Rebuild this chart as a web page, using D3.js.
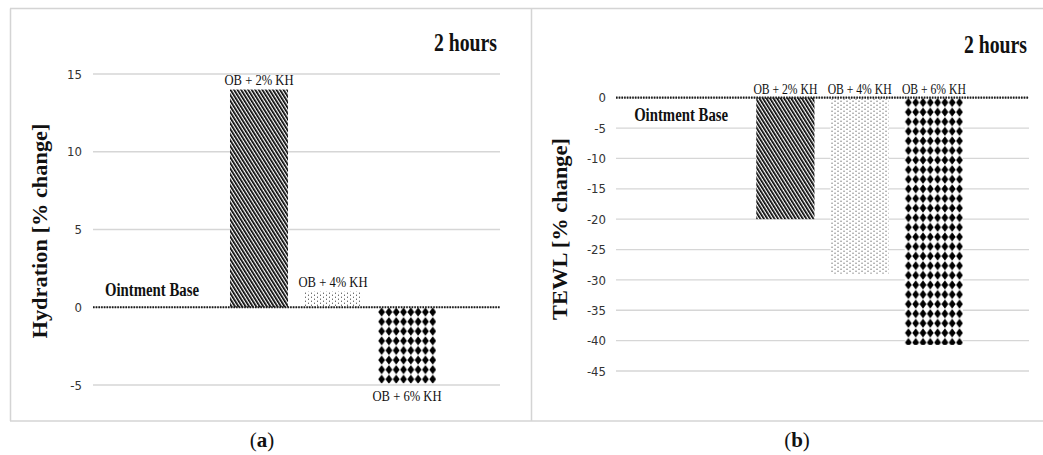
<!DOCTYPE html>
<html>
<head>
<meta charset="utf-8">
<script src="https://cdn.jsdelivr.net/npm/d3@7"></script>
<style>
  html, body { margin: 0; padding: 0; background: #fff; }
  svg { display: block; }
  .tick text { font-family: "Liberation Sans Narrow", "DejaVu Sans Condensed", "Liberation Sans", sans-serif; fill: #333; }
  .serif { font-family: "Liberation Serif", "Times New Roman", serif; }
</style>
</head>
<body>
<svg id="chart" width="1043" height="455"></svg>
<script>
// Treatment groups, in the order they appear along the x axis
const categories = ["Ointment Base", "OB + 2% KH", "OB + 4% KH", "OB + 6% KH"];
// Percent change versus the ointment base after 2 hours
const hydration = [0, 14, 1, -4.9];
const tewl = [0, -20, -29, -40.7];
// Axis ticks
const hydrationTicks = [-5, 0, 5, 10, 15];
const tewlTicks = [0, -5, -10, -15, -20, -25, -30, -35, -40, -45];
// Fill style for each group's bar
const fills = ["none", "stripes", "dots", "diamonds"];

const svg = d3.select("#chart");
const defs = svg.append("defs");

// Panel frame
const frame = svg.append("g").attr("stroke", "#d4d4d4").attr("stroke-width", 1.5).attr("fill", "none");
frame.append("line").attr("x1", 10).attr("x2", 1043).attr("y1", 8.5).attr("y2", 8.5);
frame.append("line").attr("x1", 10).attr("x2", 1043).attr("y1", 421).attr("y2", 421);
frame.append("line").attr("x1", 10.5).attr("x2", 10.5).attr("y1", 8.5).attr("y2", 421);
frame.append("line").attr("x1", 531.5).attr("x2", 531.5).attr("y1", 8.5).attr("y2", 421);

let patternCount = 0;
function makePattern(kind, x0, y0) {
  const id = "pat" + (patternCount++);
  if (kind === "stripes") {
    const p = defs.append("pattern").attr("id", id).attr("patternUnits", "userSpaceOnUse")
      .attr("width", 3).attr("height", 10).attr("patternTransform", "rotate(-32)");
    p.append("rect").attr("width", 3).attr("height", 10).attr("fill", "#fff");
    p.append("rect").attr("width", 1.7).attr("height", 10).attr("fill", "#000");
  } else if (kind === "dots") {
    const p = defs.append("pattern").attr("id", id).attr("patternUnits", "userSpaceOnUse")
      .attr("x", x0 + 1).attr("y", y0 + 1).attr("width", 6).attr("height", 4);
    p.append("rect").attr("width", 6).attr("height", 4).attr("fill", "#fff");
    p.append("rect").attr("width", 1).attr("height", 1).attr("fill", "#333");
    p.append("rect").attr("x", 3).attr("y", 2).attr("width", 1).attr("height", 1).attr("fill", "#333");
  } else if (kind === "diamonds") {
    const w = 7.3, h = 9.6;
    const p = defs.append("pattern").attr("id", id).attr("patternUnits", "userSpaceOnUse")
      .attr("x", x0).attr("y", y0).attr("width", w).attr("height", h);
    p.append("rect").attr("width", w).attr("height", h).attr("fill", "#fff");
    const cx = w / 2, cy = h / 2, rx = 3.4, ry = 4.5;
    p.append("path").attr("fill", "#000")
      .attr("d", `M${cx},${cy - ry} L${cx + rx},${cy} L${cx},${cy + ry} L${cx - rx},${cy} Z`);
  }
  return "url(#" + id + ")";
}

function panel(cfg) {
  const g = svg.append("g");
  const y = d3.scaleLinear().domain(cfg.domain).range(cfg.yRange);
  const x = d3.scaleBand().domain(categories).range(cfg.xRange)
    .paddingInner(0.216).paddingOuter(0.108);

  // Gridlines
  g.append("g").selectAll("line").data(cfg.ticks).join("line")
    .attr("x1", cfg.plotX[0]).attr("x2", cfg.plotX[1])
    .attr("y1", d => y(d)).attr("y2", d => y(d))
    .attr("stroke", "#d6d6d6").attr("stroke-width", 1.3);

  // Tick labels (plain hyphen for negatives)
  const axis = d3.axisLeft(y).tickValues(cfg.ticks).tickSize(0)
    .tickPadding(cfg.plotX[0] - cfg.labelX).tickFormat(d => String(d));
  const ag = g.append("g").attr("transform", `translate(${cfg.plotX[0]},0)`).call(axis);
  ag.select(".domain").remove();
  ag.selectAll(".tick text").attr("font-size", 13);

  // Bars
  const data = categories.map((c, i) => ({ c, v: cfg.values[i], fill: fills[i] }));
  g.append("g").selectAll("rect").data(data.filter(d => d.fill !== "none")).join("rect")
    .attr("x", d => x(d.c))
    .attr("y", d => y(Math.max(0, d.v)))
    .attr("width", x.bandwidth())
    .attr("height", d => Math.abs(y(d.v) - y(0)))
    .attr("fill", d => makePattern(d.fill, x(d.c), y(Math.max(0, d.v))));

  // Zero line
  g.append("line").attr("x1", cfg.plotX[0]).attr("x2", cfg.plotX[1])
    .attr("y1", y(0)).attr("y2", y(0))
    .attr("stroke", "#1a1a1a").attr("stroke-width", 2.2).attr("stroke-dasharray", "1.6,1.1");

  // Group labels
  data.forEach((d, i) => {
    const cx = x(d.c) + x.bandwidth() / 2;
    if (i === 0) {
      g.append("text").attr("class", "serif").attr("font-weight", "bold").attr("font-size", 18)
        .attr("x", cx + cfg.baseDx).attr("y", y(0) + cfg.baseDy)
        .attr("text-anchor", "middle").attr("textLength", 94).attr("lengthAdjust", "spacingAndGlyphs")
        .attr("fill", "#111").text(d.c);
    } else {
      let ty;
      if (cfg.labelsAboveZero) ty = y(0) - 4;
      else ty = d.v >= 0 ? y(d.v) - 5 : y(d.v) + 18;
      g.append("text").attr("class", "serif").attr("font-size", cfg.labelSize)
        .attr("x", cx).attr("y", ty).attr("text-anchor", "middle")
        .attr("textLength", cfg.labelLen).attr("lengthAdjust", "spacingAndGlyphs")
        .attr("fill", "#111").text(d.c);
    }
  });

  // Time point
  g.append("text").attr("class", "serif").attr("font-weight", "bold").attr("font-size", 25)
    .attr("x", cfg.titleX).attr("y", cfg.titleY).attr("text-anchor", "end")
    .attr("textLength", 63).attr("lengthAdjust", "spacingAndGlyphs")
    .attr("fill", "#111").text("2 hours");

  // Y axis title
  g.append("text").attr("class", "serif").attr("font-weight", "bold").attr("font-size", 20)
    .attr("transform", `translate(${cfg.yTitle[0]},${cfg.yTitle[1]}) rotate(-90)`)
    .attr("text-anchor", "middle").attr("textLength", cfg.yTitleLen).attr("lengthAdjust", "spacingAndGlyphs")
    .attr("fill", "#111").text(cfg.yLabel);

  // Panel letter
  const cap = g.append("text").attr("class", "serif").attr("font-size", 21)
    .attr("x", cfg.capX).attr("y", 447).attr("text-anchor", "middle").attr("fill", "#111");
  cap.append("tspan").text("(");
  cap.append("tspan").attr("font-weight", "bold").text(cfg.letter);
  cap.append("tspan").text(")");
}

panel({
  values: hydration, ticks: hydrationTicks, domain: [-5, 15], yRange: [385, 74],
  plotX: [93, 500], xRange: [148, 444], labelX: 82, labelLen: 69, labelSize: 15.5,
  labelsAboveZero: false, baseDx: -33, baseDy: -11,
  titleX: 497, titleY: 51, yTitle: [47, 231], yTitleLen: 215,
  yLabel: "Hydration [% change]", capX: 262, letter: "a"
});

panel({
  values: tewl, ticks: tewlTicks, domain: [-45, 0], yRange: [371, 97.7],
  plotX: [616, 1029], xRange: [674, 971], labelX: 606, labelLen: 64, labelSize: 14,
  labelsAboveZero: true, baseDx: -30, baseDy: 23,
  titleX: 1027, titleY: 53, yTitle: [567, 229], yTitleLen: 182,
  yLabel: "TEWL [% change]", capX: 797, letter: "b"
});
</script>
</body>
</html>
